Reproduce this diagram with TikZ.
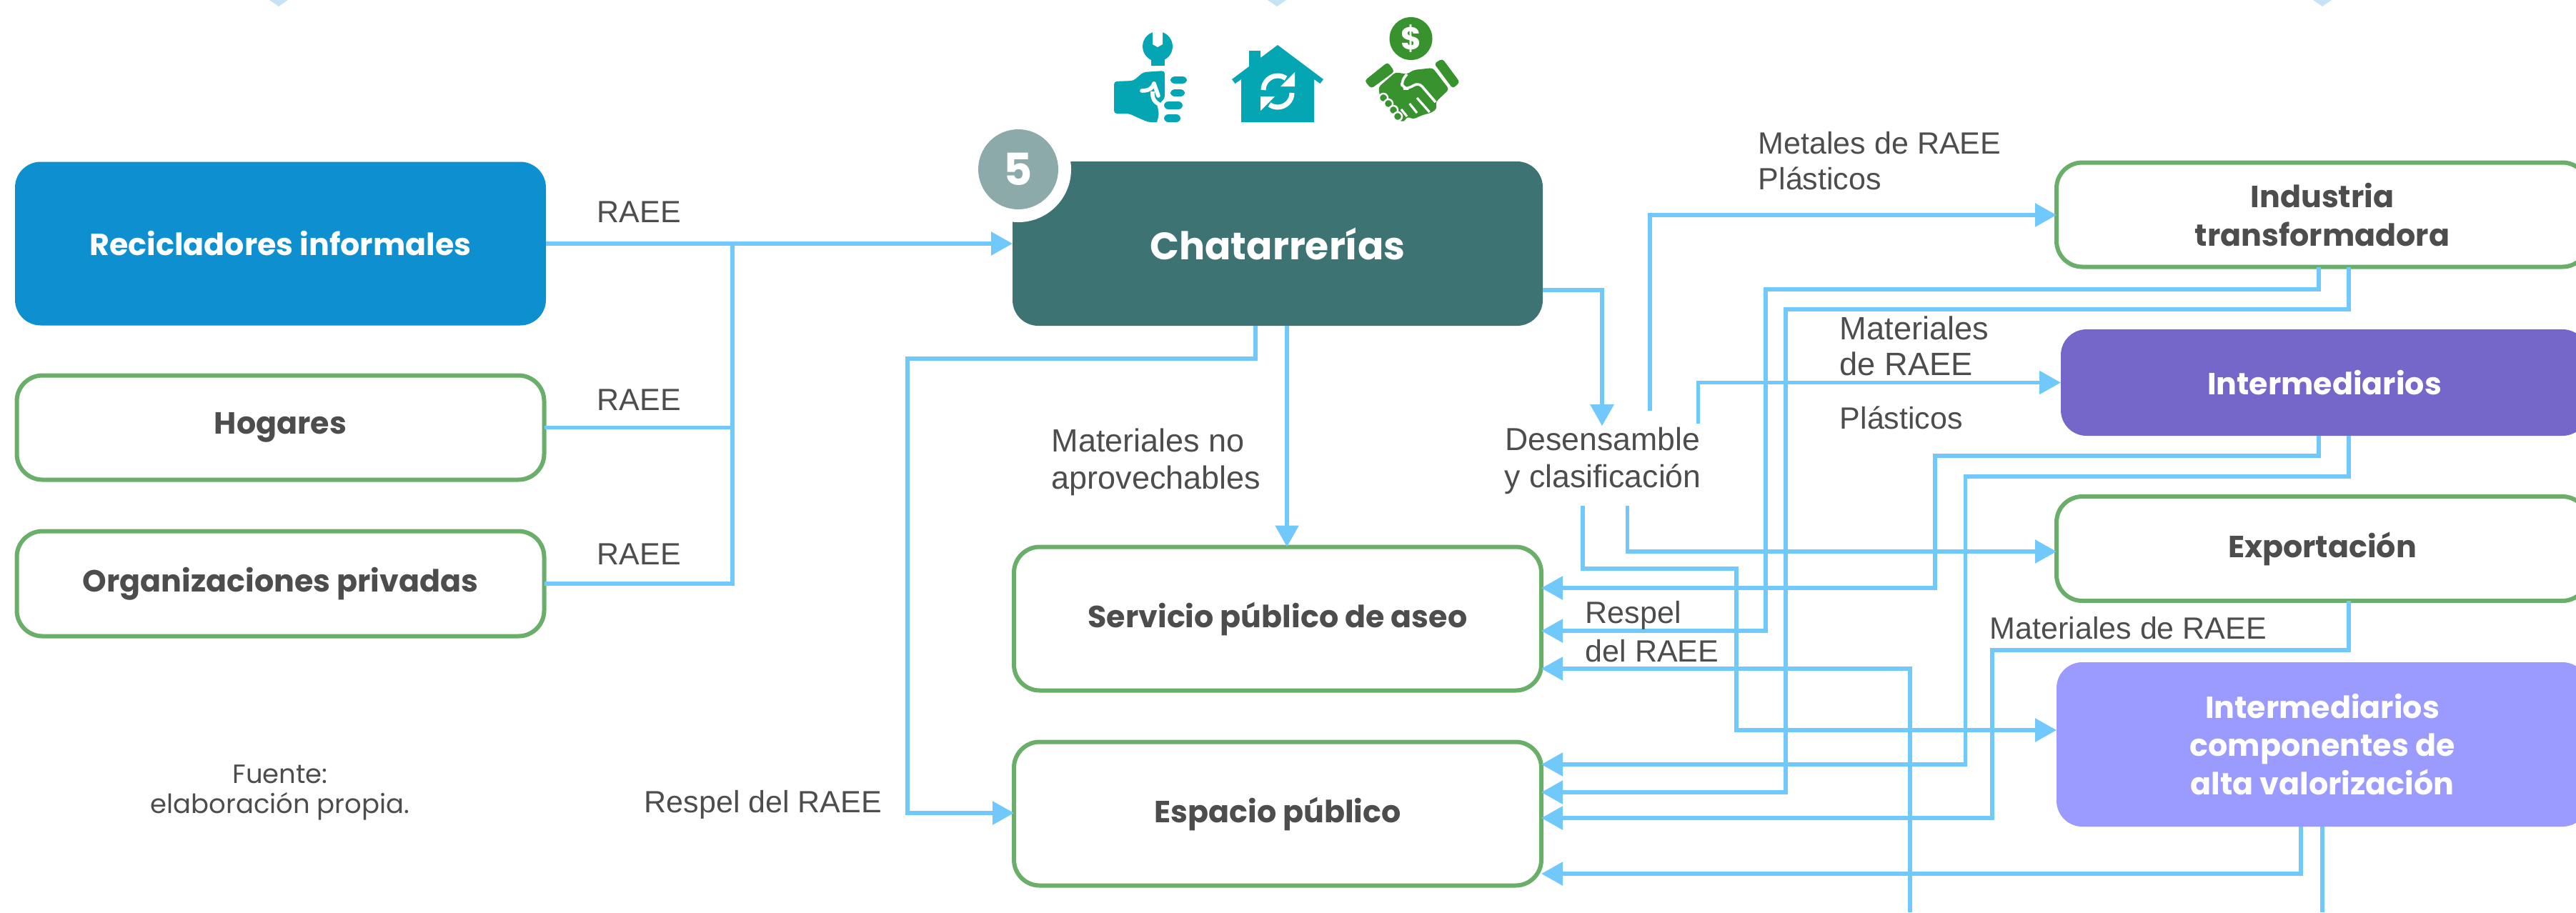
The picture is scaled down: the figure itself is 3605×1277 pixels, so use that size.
\documentclass[tikz,border=0pt]{standalone}
\usepackage{fontspec}
\setmainfont{Liberation Sans}
\newfontfamily\boxfont{Poppins}
\usetikzlibrary{arrows.meta}

\definecolor{linecol}{HTML}{70C9FA}
\definecolor{greencol}{HTML}{69AF69}
\definecolor{textcol}{HTML}{4D4D4D}
\definecolor{bluecol}{HTML}{0E8FD0}
\definecolor{tealcol}{HTML}{3D7372}
\definecolor{badgecol}{HTML}{8CAAAA}
\definecolor{violetcol}{HTML}{7566C9}
\definecolor{lilaccol}{HTML}{9B9BFF}
\definecolor{iconcol}{HTML}{05A6B3}
\definecolor{moneycol}{HTML}{38932F}
\definecolor{tipcol}{HTML}{C5E3F5}

\def\px{0.25pt}

\begin{document}
\begin{tikzpicture}[x=0.25pt, y=-0.25pt, >={Triangle[length=7.5pt,width=8pt]}, font=\fontsize{10.75}{12.5}\selectfont]

    % --- STYLES ---
    \tikzstyle{boxbase} = [rounded corners=9pt, inner sep=0pt, outer sep=0pt, align=center, minimum width=738*\px, font=\boxfont\bfseries\fontsize{10.7}{13.3}\selectfont]
    \tikzstyle{outline_box} = [boxbase, draw=greencol, line width=1.5pt, fill=white, text=textcol]
    \tikzstyle{solid_box} = [boxbase, text=white]
    \tikzstyle{wire} = [draw=linecol, line width=1.4pt]
    \tikzstyle{flow_label} = [text=textcol, inner sep=0pt, align=left, anchor=west]

    \useasboundingbox (0,0) rectangle (3605,1277);

    % --- MARKS AT THE TOP EDGE ---
    \foreach \x in {390, 1787, 3250} \fill[tipcol] (\x-13,0) -- (\x+13,0) -- (\x,9) -- cycle;

    % --- LEFT COLUMN ---
    \node[solid_box, fill=bluecol, minimum width=743*\px, minimum height=229*\px] (recic) at (392.5,341) {Recicladores informales};
    \node[outline_box, minimum height=146*\px] (hogar) at (392.5,598.5) {Hogares};
    \node[outline_box, minimum height=147*\px] (organ) at (392.5,817) {Organizaciones privadas};
    \node[text=textcol, align=center, font=\boxfont\fontsize{9.25}{10.5}\selectfont] (fuente) at (392,1109) {Fuente:\\elaboración propia.};

    % --- MIDDLE COLUMN ---
    \node[solid_box, fill=tealcol, minimum width=742*\px, minimum height=230*\px, font=\boxfont\bfseries\fontsize{13.4}{16}\selectfont] (chat) at (1788,341) {Chatarrerías};
    \node[outline_box, minimum height=201*\px] (serv) at (1788,866) {Servicio público de aseo};
    \node[outline_box, minimum height=201*\px] (esp) at (1788,1139) {Espacio público};
    % badge cuts a white notch out of the box
    \fill[white] (1425,237) circle (74);
    \node[circle, fill=badgecol, text=white, minimum size=112*\px, inner sep=0pt, font=\boxfont\bfseries\fontsize{15.5}{16}\selectfont] (badge) at (1425,237) {5};

    % --- RIGHT COLUMN ---
    \node[outline_box, minimum width=744*\px, minimum height=146*\px] (indus) at (3250,300.5) {Industria\\transformadora};
    \node[solid_box, fill=violetcol, minimum width=738*\px, minimum height=149*\px] (inter) at (3253,535.5) {Intermediarios};
    \node[outline_box, minimum width=744*\px, minimum height=146*\px] (expor) at (3250,768) {\raisebox{-1.2pt}{Exportación}};
    \node[solid_box, fill=lilaccol, minimum width=744*\px, minimum height=230*\px] (alta) at (3250,1042) {Intermediarios\\componentes de\\alta valorización};

    % --- STEP IN THE MIDDLE ---
    \node[text=textcol, align=center, inner sep=0pt, minimum height=96*\px, font=\fontsize{11.15}{12.5}\selectfont] (des) at (2243,645) {\raisebox{-0.5pt}{Desensamble}\\[0.5pt]\raisebox{-0.5pt}{y clasificación}};

    % --- FREE ENDS ---
    \coordinate (junc) at (1025,341);
    \coordinate (desA) at (2309,575);
    \coordinate (desB) at (2376.5,593);
    \coordinate (desC) at (2215,708);
    \coordinate (desD) at (2277.5,708);
    \coordinate (offA) at (2673,1277);
    \coordinate (offB) at (3250,1277);

    % --- CONNECTIONS ---
    \draw[wire, ->] (recic.east) -- (chat.west);
    \draw[wire] (hogar.east) -| (junc);
    \draw[wire] (organ.east) -| (junc);

    \draw[wire, ->] (chat.east |- 0,406) -| (des.north -| 2242,0);
    \draw[wire, ->] (chat.south -| 1801,0) -- (serv.north -| 1801,0);
    \draw[wire, ->] (chat.south -| 1757,0) |- (1270,502) |- (esp.west |- 0,1138);

    % Outputs of the step
    \draw[wire, ->] (desA) |- (indus.west |- 0,301);
    \draw[wire, ->] (desB) |- (inter.west);
    \draw[wire, ->] (desD) |- (expor.west |- 0,772);
    \draw[wire, ->] (desC) |- (2430,796) |- (alta.west |- 0,1022);

    % Returns to the public service
    \draw[wire, ->] (indus.south -| 3245,0) |- (2471,405) |- (serv.east |- 0,883);
    \draw[wire, ->] (inter.south -| 3245,0) |- (2708,638) |- (serv.east |- 0,823);
    \draw[wire, ->] (offA) |- (serv.east |- 0,936);

    % Returns to the public space
    \draw[wire, ->] (indus.south -| 3287,0) |- (2499,433) |- (esp.east |- 0,1109);
    \draw[wire, ->] (inter.south -| 3287,0) |- (2750.5,667) |- (esp.east |- 0,1070);
    \draw[wire, ->] (expor.south -| 3287,0) |- (2788,910) |- (esp.east |- 0,1145);
    \draw[wire, ->] (alta.south -| 3220,0) |- (esp.east |- 0,1223);
    \draw[wire] (alta.south -| 3250,0) -- (offB);

    % --- LABELS ---
    \node[flow_label] (raeeA) at (835,297) {RAEE};
    \node[flow_label] (raeeB) at (835,560) {RAEE};
    \node[flow_label] (raeeC) at (835,776) {RAEE};
    \node[flow_label, font=\fontsize{11.25}{12.5}\selectfont] (noapr) at (1471,647) {Materiales no\\[0.5pt]aprovechables};
    \node[flow_label] (resA) at (901,1126) {Respel del RAEE};
    \node[flow_label] (metal) at (2460,225) {Metales de RAEE\\Plásticos};
    \node[flow_label, font=\fontsize{11.3}{12.5}\selectfont] (matA) at (2574,484) {Materiales\\de RAEE};
    \node[flow_label] (plast) at (2574,585) {Plásticos};
    \node[flow_label] (resB) at (2218,884) {Respel\\[1pt]del RAEE};
    \node[flow_label] (matB) at (2784,879) {Materiales de RAEE};

    % --- ICONS ---
    % Hand with spanner
    \fill[iconcol] (1620,65) circle (21);
    \fill[iconcol] (1610.5,78) rectangle (1630,92);
    \fill[white] (1613,40) -- (1613,62) -- (1620,66) -- (1627,62) -- (1627,40) -- cycle;
    \fill[white] (1590,30) rectangle (1650,45);
    \fill[iconcol, rounded corners=1pt] (1559,114) -- (1586,113) -- (1600,101) -- (1630,99) -- (1630,138) -- (1622,145) -- (1622,171) -- (1607,171) -- (1593,165) -- (1580,159) -- (1559,159) -- cycle;
    \draw[white, line width=1.4pt, line cap=round] (1598,127) .. controls (1610,127) and (1613,122) .. (1615,117);
    \draw[white, line width=1.4pt, line cap=round] (1615,117) -- (1621,134);
    \draw[white, line width=1.4pt] (1613,128) .. controls (1612,138) and (1616,143) .. (1622,146) .. controls (1624,155) and (1626,158) .. (1622,171);
    \foreach \xa/\ya/\xb/\yb in {1638/107/1661/117, 1638/125/1658/135, 1629/142/1655/153, 1629/160/1652/171}
        \fill[iconcol, rounded corners=1.5pt] (\xa,\ya) rectangle (\xb,\yb);

    % House with refresh arrows
    \fill[iconcol] (1788,63) -- (1852,111) -- (1847.5,117) -- (1839,111) -- (1839,171) -- (1737,171) -- (1737,111) -- (1728.5,117) -- (1724,111) -- (1748,93) -- (1748,71) -- (1764,71) -- (1764,81) -- cycle;
    \draw[white, line width=1.75pt] (1768,126) arc[start angle=180, end angle=305, radius=20];
    \fill[white] (1812,101) -- (1812,121) -- (1792,121) -- cycle;
    \draw[white, line width=1.75pt] (1808,130) arc[start angle=0, end angle=125, radius=20];
    \fill[white] (1764,135) -- (1764,155) -- (1784,135) -- cycle;

    % Handshake with coin
    \node[circle, fill=moneycol, text=white, minimum size=60*\px, inner sep=0pt, font=\boxfont\bfseries\fontsize{11}{12}\selectfont] (coin) at (1974.5,54) {\$};
    \fill[moneycol, rounded corners=1pt] (1909.5,113) -- (1942,87) -- (1951.6,100) -- (1919,124) -- cycle;
    \fill[moneycol, rounded corners=1pt] (2007,89) -- (2018.5,82) -- (2043,115) -- (2033,124) -- cycle;
    \fill[moneycol, rounded corners=1pt] (1929,122) -- (1953,101) -- (1969,104) -- (1978,98) -- (2005,95) -- (2028,125) -- (2009,143) -- (2011,152) -- (2003,158) -- (1994,160) -- (1986,163) -- (1978,167) -- (1969,163) -- (1965,171) -- (1957,168) -- (1932,140) -- cycle;
    \draw[white, line width=0.9pt, rounded corners=2pt] (1969,104) -- (1961,113) -- (1963,124) -- (1972,124) -- (1985,115) -- (2009,143);
    \draw[white, line width=0.8pt] (1983,137) -- (2000.6,157);
    \draw[white, line width=0.8pt] (1972.6,145) -- (1983,158);
    \draw[white, line width=0.8pt] (1961,153) -- (1969,163);
    \foreach \x/\y in {1936/137, 1943/145, 1950/154, 1956/163}
        \draw[white, fill=moneycol, line width=0.6pt] (\x,\y) circle (6);

\end{tikzpicture}
\end{document}
